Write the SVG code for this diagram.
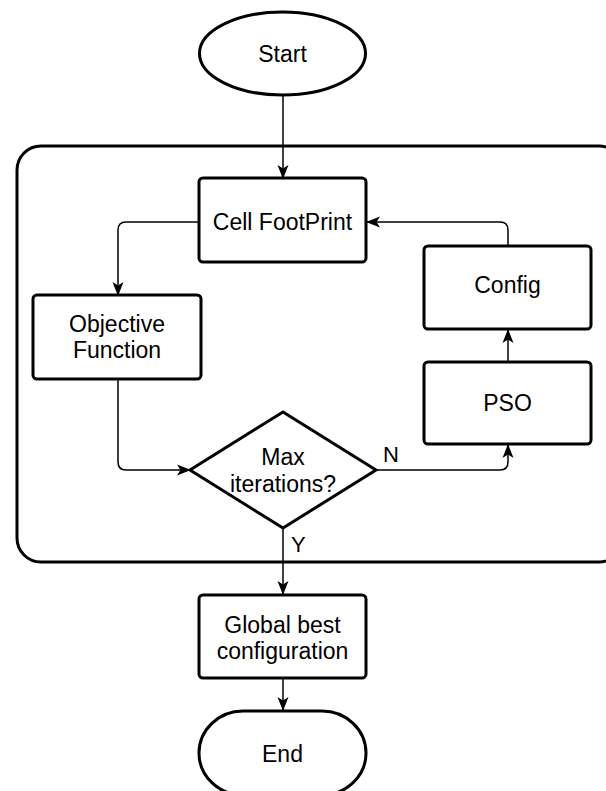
<svg xmlns="http://www.w3.org/2000/svg" width="606" height="791" viewBox="0 0 606 791">
<style>
.shape{fill:#fff;stroke:#000;stroke-width:3}
.frame{fill:none;stroke:#000;stroke-width:3}
.conn{fill:none;stroke:#000;stroke-width:1.5}
text{font-family:"Liberation Sans",Arial,sans-serif;font-size:23px;fill:#000;text-anchor:middle}
.lbl{font-size:22px;text-anchor:start}
</style>
<defs>
<marker id="arr" viewBox="0 0 14 12" refX="13" refY="6" markerWidth="14" markerHeight="12" markerUnits="userSpaceOnUse" orient="auto">
<path d="M0,0.5 L14,6 L0,11.5 L3.5,6 Z" fill="#000"/>
</marker>
</defs>
<rect id="container" class="frame" x="17" y="146" width="606" height="416" rx="24" ry="24"/>
<g id="connectors">
<path class="conn" d="M283,95 L283,178" marker-end="url(#arr)"/>
<path class="conn" d="M199,222 L126,222 Q118,222 118,230 L118,295" marker-end="url(#arr)"/>
<path class="conn" d="M508,246 L508,230 Q508,222 500,222 L367,222" marker-end="url(#arr)"/>
<path class="conn" d="M508,362 L508,330" marker-end="url(#arr)"/>
<path class="conn" d="M118,379 L118,462 Q118,470 126,470 L190,470" marker-end="url(#arr)"/>
<path class="conn" d="M376,470 L500,470 Q508,470 508,462 L508,445" marker-end="url(#arr)"/>
<path class="conn" d="M283,528 L283,594" marker-end="url(#arr)"/>
<path class="conn" d="M283,678 L283,710" marker-end="url(#arr)"/>
</g>
<g id="start">
<ellipse class="shape" cx="282.5" cy="53.5" rx="83" ry="41.5"/>
<text x="282.5" y="62">Start</text>
</g>
<g id="cell">
<rect class="shape" x="199" y="178" width="167" height="84" rx="4"/>
<text x="282.5" y="230">Cell FootPrint</text>
</g>
<g id="objective">
<rect class="shape" x="33" y="295" width="168" height="84" rx="4"/>
<text x="117" y="332">Objective</text>
<text x="117" y="358">Function</text>
</g>
<g id="config">
<rect class="shape" x="424" y="246" width="167" height="83" rx="4"/>
<text x="507.5" y="293">Config</text>
</g>
<g id="pso">
<rect class="shape" x="424" y="362" width="167" height="82" rx="4"/>
<text x="507.5" y="411">PSO</text>
</g>
<g id="decision">
<polygon class="shape" points="283,412 376,470 283,528 190,470"/>
<text x="283" y="465">Max</text>
<text x="283" y="492">iterations?</text>
</g>
<text id="labelN" class="lbl" x="383" y="462">N</text>
<text id="labelY" class="lbl" x="291" y="552">Y</text>
<g id="global">
<rect class="shape" x="199" y="595" width="167" height="83" rx="4"/>
<text x="282.5" y="633">Global best</text>
<text x="282.5" y="659">configuration</text>
</g>
<g id="end">
<rect class="shape" x="199" y="711" width="167" height="84" rx="44" ry="42"/>
<text x="282.5" y="762">End</text>
</g>
</svg>
